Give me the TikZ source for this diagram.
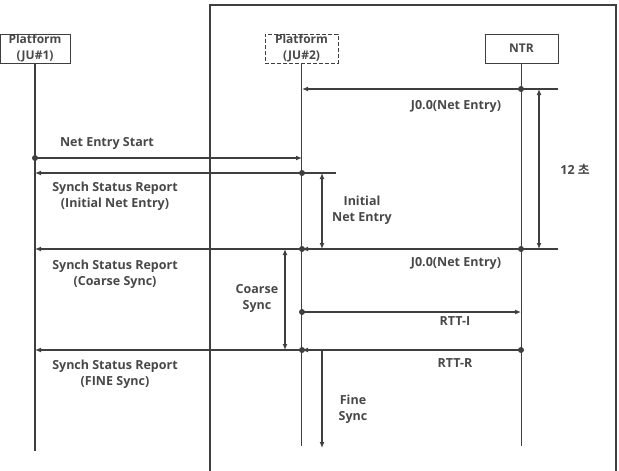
\documentclass[tikz,border=0pt]{standalone}
\usepackage{fontspec}
\setmainfont{Open Sans}
\newfontfamily\krfont[AutoFakeBold=2.5]{Noto Sans CJK KR}
\usetikzlibrary{arrows.meta}

\definecolor{linegray}{HTML}{3F3F3F}
\definecolor{textgray}{HTML}{484848}

\tikzset{
  actor/.style={draw=linegray, line width=1pt, minimum width=73pt, minimum height=29pt,
    inner sep=0pt, align=center, text=textgray, font=\bfseries\fontsize{12}{16}\selectfont},
  life/.style={draw=linegray, line width=1.2pt},
  msg/.style={draw=linegray, line width=1.2pt, -{Latex[length=6pt,width=5pt]}},
  interval/.style={draw=linegray, line width=1.2pt, {Latex[length=6pt,width=5pt]}-{Latex[length=6pt,width=5pt]}},
  lbl/.style={text=textgray, align=center, inner sep=0pt, font=\bfseries\fontsize{12.5}{16}\selectfont},
  evdot/.style={fill=linegray}
}

\begin{document}
\begin{tikzpicture}[x=1pt,y=-1pt]
  \useasboundingbox (0,0) rectangle (619,471);

  % frame of the second network
  \draw[linegray, line width=1.2pt] (210,471) -- (210,5) -- (616,5) -- (616,471);

  % actors
  \node[actor, minimum width=70pt] (ju1) at (35,48.5) {Platform\\(JU\#1)};
  \node[actor, dashed, dash pattern=on 4pt off 2pt] (ju2) at (301.5,48.5) {Platform\\(JU\#2)};
  \node[actor] (ntr) at (521.5,48.5) {NTR};

  % lifelines
  \coordinate (ju1end) at (ju1 |- 0,451);
  \coordinate (ju2end) at (ju2 |- 0,446);
  \coordinate (ntrend) at (ntr |- 0,446);
  \draw[life] (ju1) -- (ju1end);
  \draw[life] (ju2) -- (ju2end);
  \draw[life] (ntr) -- (ntrend);

  % event points
  \coordinate (ntr1) at (521,89);
  \coordinate (ju2a) at (302,89);
  \coordinate (e1)   at (558,89);
  \coordinate (ju1a) at (35,158);
  \coordinate (ju2b) at (302,158);
  \coordinate (ju2c) at (302,173);
  \coordinate (ju1b) at (35,173);
  \coordinate (e2)   at (336,173);
  \coordinate (ntr2) at (521,249);
  \coordinate (ju2d) at (302,249);
  \coordinate (ju1c) at (35,249);
  \coordinate (e3)   at (558,249);
  \coordinate (ju2e) at (302,312);
  \coordinate (ntr3) at (521,312);
  \coordinate (ntr4) at (521,350);
  \coordinate (ju2f) at (302,350);
  \coordinate (ju1d) at (35,350);

  % messages
  \draw[msg] (e1) -- (ju2a);
  \draw[msg] (ju1a) -- (ju2b);
  \draw[msg] (e2) -- (ju1b);
  \draw[msg] (e3) -- (ju2d);
  \draw[msg] (ju2d) -- (ju1c);
  \draw[msg] (ju2e) -- (ntr3);
  \draw[msg] (ntr4) -- (ju2f);
  \draw[msg] (ju2f) -- (ju1d);

  \foreach \p in {ntr1,ju1a,ju2c,ntr2,ju2d,ju2e,ntr4,ju2f}
    \fill[evdot] (\p) circle (3pt);

  % intervals
  \coordinate (t1) at (539,89);
  \coordinate (t2) at (539,249);
  \coordinate (i1) at (322,173);
  \coordinate (i2) at (322,249);
  \coordinate (c1) at (285,249);
  \coordinate (c2) at (285,350);
  \coordinate (f1) at (322,350);
  \coordinate (f2) at (322,448);
  \draw[interval] (t1) -- (t2);
  \draw[interval] (i1) -- (i2);
  \draw[interval] (c1) -- (c2);
  \draw[msg] (f1) -- (f2);

  % labels
  \node[lbl] (lj1) at (456,106) {J0.0(Net Entry)};
  \node[lbl] (lj2) at (456,263) {J0.0(Net Entry)};
  \node[lbl] (lnes) at (107,143) {Net Entry Start};
  \node[lbl] (lssr1) at (115,196) {Synch Status Report\\(Initial Net Entry)};
  \node[lbl] (lssr2) at (115,274) {Synch Status Report\\(Coarse Sync)};
  \node[lbl] (lssr3) at (115,374) {Synch Status Report\\(FINE Sync)};
  \node[lbl] (linit) at (362,210) {Initial\\Net Entry};
  \node[lbl] (lcoarse) at (257,298) {Coarse\\Sync};
  \node[lbl] (lrtti) at (455,321) {RTT-I};
  \node[lbl] (lrttr) at (455,363) {RTT-R};
  \node[lbl] (lfine) at (353,409) {Fine\\Sync};
  \node[lbl] (l12) at (575,169) {12 {\krfont 초}};
\end{tikzpicture}
\end{document}
